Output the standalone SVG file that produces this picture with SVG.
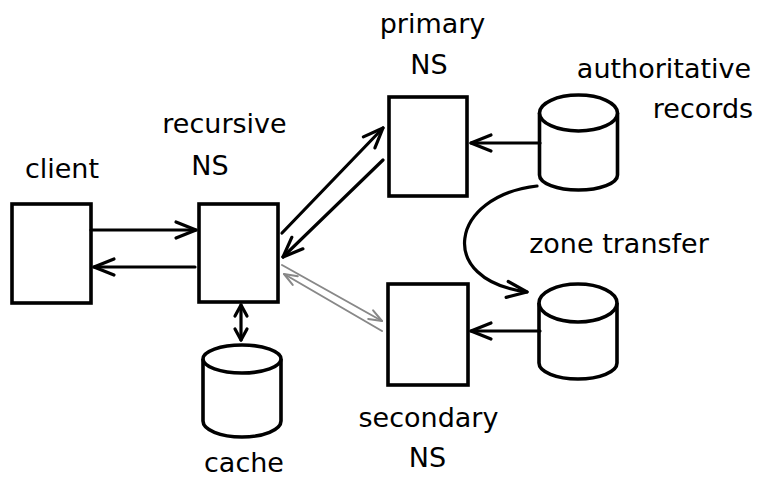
<svg xmlns="http://www.w3.org/2000/svg" width="769" height="478" viewBox="0 0 769 478">
<style>
.box{fill:#fff;stroke:#000;stroke-width:3.6}
.cyl{fill:#fff;stroke:#000;stroke-width:3.6;stroke-linejoin:round}
.ln{fill:none;stroke:#000;stroke-width:3.2;stroke-linecap:round}
.gl{fill:none;stroke:#888;stroke-width:2;stroke-linecap:round}
text{font-family:"DejaVu Sans","Liberation Sans",sans-serif;font-size:27px;fill:#000;text-anchor:middle}
</style>
<defs>
<marker id="ah" viewBox="0 0 26 24" markerWidth="26" markerHeight="24" refX="22" refY="12" orient="auto" markerUnits="userSpaceOnUse" overflow="visible">
<path d="M2,4 L22,12 L2,20" fill="none" stroke="#000" stroke-width="3.2" stroke-linecap="round" stroke-linejoin="round"/>
</marker>
<marker id="sh" viewBox="0 0 16 16" markerWidth="16" markerHeight="16" refX="13" refY="8" orient="auto-start-reverse" markerUnits="userSpaceOnUse" overflow="visible">
<path d="M2,2 L13,8 L2,14" fill="none" stroke="#000" stroke-width="3.2" stroke-linecap="round" stroke-linejoin="round"/>
</marker>
<marker id="gh" viewBox="0 0 18 14" markerWidth="18" markerHeight="14" refX="15" refY="7" orient="auto" markerUnits="userSpaceOnUse" overflow="visible">
<path d="M2,2 L15,7 L2,12" fill="none" stroke="#888" stroke-width="2" stroke-linecap="round" stroke-linejoin="round"/>
</marker>
</defs>
<g id="client">
<rect class="box" x="12" y="204" width="79" height="99"/>
<text x="62" y="178">client</text>
</g>
<g id="recursive">
<rect class="box" x="199" y="204" width="79" height="98"/>
<text x="224.5" y="133">recursive</text>
<text x="210" y="175">NS</text>
</g>
<g id="primary">
<rect class="box" x="389" y="97" width="78" height="99"/>
<text x="432.5" y="33">primary</text>
<text x="429" y="74">NS</text>
</g>
<g id="secondary">
<rect class="box" x="388" y="284" width="80" height="101"/>
<text x="428.5" y="427">secondary</text>
<text x="427.5" y="467">NS</text>
</g>
<g id="authoritative">
<path class="cyl" d="M539.5,113 L539.5,175 A39 15 0 0 0 617.5,175 L617.5,113"/>
<ellipse class="cyl" cx="578.5" cy="113" rx="39" ry="18"/>
<text x="664" y="78">authoritative</text>
<text x="703" y="118">records</text>
</g>
<g id="replica">
<path class="cyl" d="M539,303 L539,363 A39 16 0 0 0 617,363 L617,303"/>
<ellipse class="cyl" cx="578" cy="303" rx="39" ry="19"/>
</g>
<g id="cache">
<path class="cyl" d="M203,359 L203,421 A39 16 0 0 0 281,421 L281,359"/>
<ellipse class="cyl" cx="242" cy="359" rx="39" ry="14"/>
<text x="244" y="472">cache</text>
</g>
<g id="connectors">
<line class="ln" x1="91" y1="230" x2="196" y2="230" marker-end="url(#ah)"/>
<line class="ln" x1="195" y1="267" x2="94" y2="267" marker-end="url(#ah)"/>
<line class="ln" x1="282" y1="233" x2="383" y2="128" marker-end="url(#ah)"/>
<line class="ln" x1="383" y1="160" x2="283" y2="257" marker-end="url(#ah)"/>
<line class="gl" x1="282" y1="265" x2="382" y2="321" marker-end="url(#gh)"/>
<line class="gl" x1="382" y1="331" x2="284" y2="274" marker-end="url(#gh)"/>
<line class="ln" x1="241" y1="305" x2="241" y2="340" marker-start="url(#sh)" marker-end="url(#sh)"/>
<line class="ln" x1="540" y1="143" x2="471" y2="143" marker-end="url(#ah)"/>
<line class="ln" x1="540" y1="331" x2="471" y2="331" marker-end="url(#ah)"/>
<path class="ln" d="M537,186 C450,196 435,280 527,292" marker-end="url(#ah)"/>
<text x="619" y="253">zone transfer</text>
</g>
</svg>
